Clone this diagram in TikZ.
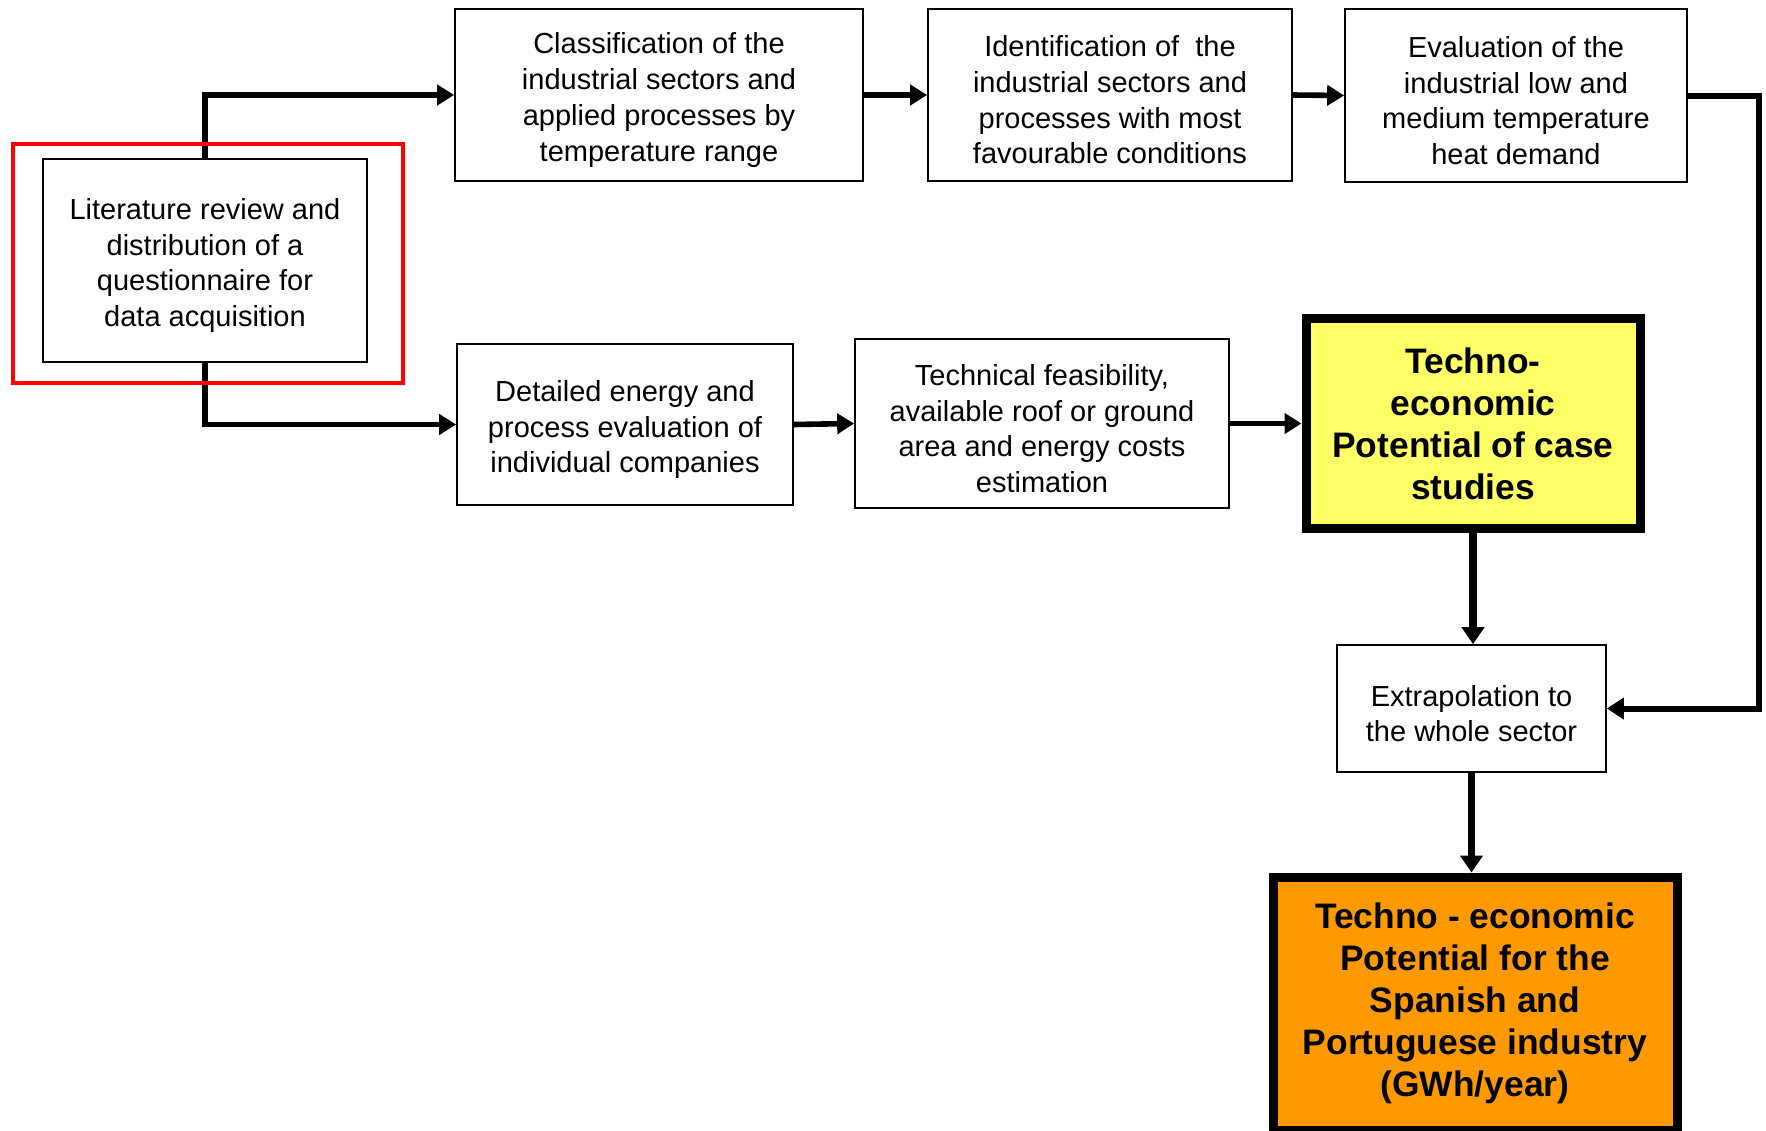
\documentclass[tikz,border=0pt]{standalone}
\usepackage{fontspec}
\setmainfont{Liberation Sans}
\usetikzlibrary{arrows.meta}
\definecolor{boxyellow}{RGB}{255,255,102}
\definecolor{boxorange}{RGB}{255,153,0}
\newcommand\toppad{\rule{0pt}{15.5pt}}
\begin{document}
\begin{tikzpicture}[x=0.5pt,y=-0.5pt,
 plainbox/.style={draw, line width=0.85pt, inner sep=0pt, align=center, font=\fontsize{14.5}{17.85}\selectfont},
 resultbox/.style={draw, line width=4.5pt, inner sep=0pt, align=center, font=\fontsize{17.7}{21}\selectfont\bfseries},
 flow/.style={line width=2.8pt, -{Triangle[length=8.5pt,width=10pt]}},
 sideflow/.style={line width=3pt, -{Triangle[length=8.5pt,width=10.5pt]}},
 thickflow/.style={line width=3.6pt, -{Triangle[length=8.5pt,width=11pt]}},
 highlight/.style={draw=red, line width=2.3pt, inner sep=0pt},
]
\useasboundingbox[fill=white] (0,0) rectangle (1766,1130);

\node[plainbox, minimum width=162pt, minimum height=101.5pt] (lit) at (205,260.5)
  {\toppad Literature review and\\distribution of a\\questionnaire for\\data acquisition};
\node[plainbox, minimum width=204pt, minimum height=86pt] (class) at (659,95)
  {\toppad Classification of the\\industrial sectors and\\applied processes by\\temperature range};
\node[plainbox, minimum width=182pt, minimum height=86pt] (ident) at (1110,95)
  {\toppad Identification of\ \ the\\industrial sectors and\\processes with most\\favourable conditions};
\node[plainbox, minimum width=171pt, minimum height=86.5pt] (eval) at (1516,95.5)
  {\toppad Evaluation of the\\industrial low and\\medium temperature\\heat demand};
\node[plainbox, minimum width=168pt, minimum height=80.5pt] (det) at (625,424.5)
  {\toppad Detailed energy and\\process evaluation of\\individual companies};
\node[plainbox, minimum width=187pt, minimum height=84.5pt] (tech) at (1042,423.5)
  {\toppad Technical feasibility,\\available roof or ground\\area and energy costs\\estimation};
\node[resultbox, fill=boxyellow, minimum width=167pt, minimum height=105pt] (case) at (1473,423.5)
  {Techno-\\economic\\Potential of case\\studies};
\node[plainbox, minimum width=134.5pt, minimum height=63.5pt] (extrap) at (1471.5,708.5)
  {\toppad Extrapolation to\\the whole sector};
\node[resultbox, fill=boxorange, minimum width=202pt, minimum height=126.5pt] (total) at (1475,1003.5)
  {Techno - economic\\Potential for the\\Spanish and\\Portuguese industry\\(GWh/year)};

\coordinate (rc) at (1759,400);

\draw[flow] (lit.north) |- (class.west);
\draw[flow] (lit.south) |- (det.west);
\draw[flow] (class.east) -- (ident.west);
\draw[flow] (ident.east) -- (eval.west);
\draw[flow] (det.east) -- (tech.west);
\draw[flow] (tech.east) -- (case.west);
\draw[sideflow] (eval.east) -- (eval.east -| rc) -- (rc |- extrap.east) -- (extrap.east);
\draw[thickflow] (case.south) -- (case.south |- extrap.north);
\draw[thickflow] (extrap.south) -- (extrap.south |- total.north);

\node[highlight, minimum width=195pt, minimum height=119.5pt] (frame) at (208,263.5) {};
\end{tikzpicture}
\end{document}
